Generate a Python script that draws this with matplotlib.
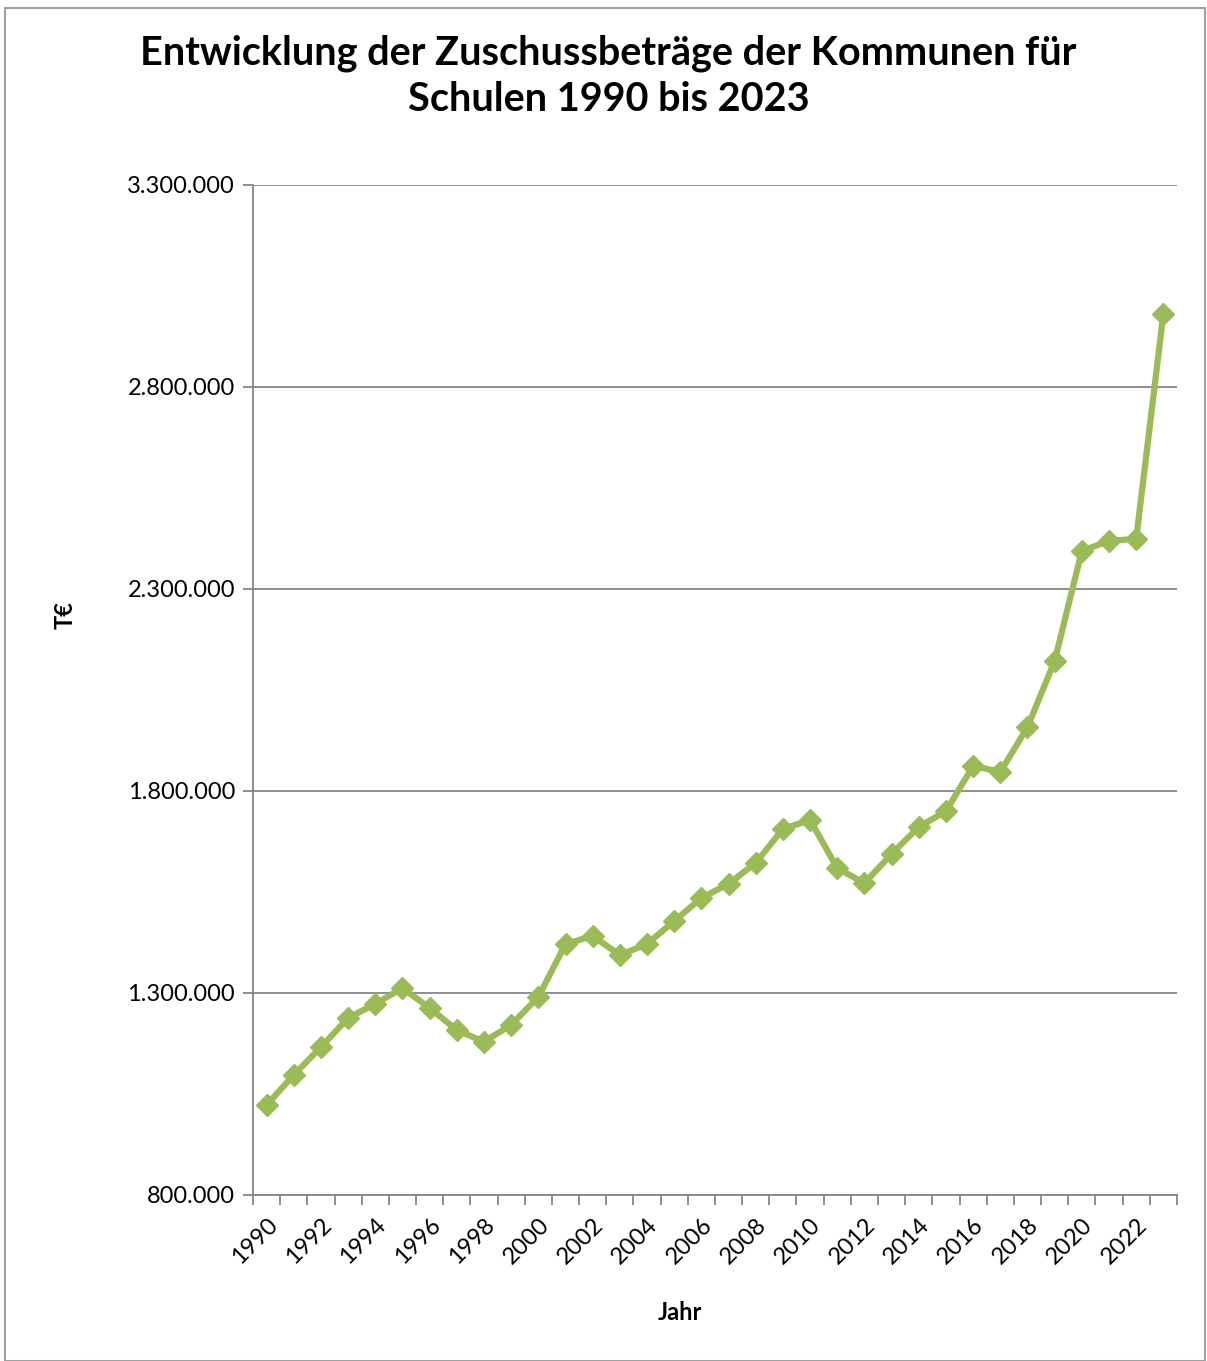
import numpy as np
import matplotlib
matplotlib.use("Agg")
from matplotlib import pyplot as plt
from matplotlib.patches import Rectangle
from matplotlib.ticker import FuncFormatter

plt.rcParams['font.family'] = ['Lato', 'DejaVu Sans']

# Zuschussbeträge der Kommunen für Schulen (T€)
years = list(range(1990, 2024))
values = [1022800, 1097000, 1166000, 1238000, 1273000, 1312000, 1263000, 1208000,
          1179000, 1221000, 1290000, 1421000, 1441000, 1394000, 1421000, 1478000,
          1535000, 1570000, 1622000, 1706000, 1728000, 1609000, 1572000, 1644000,
          1711000, 1750000, 1862000, 1847000, 1958000, 2122000, 2394000, 2419000,
          2424000, 2981000]
y_ticks = [800000, 1300000, 1800000, 2300000, 2800000, 3300000]

green = '#9BBB59'
gray = '#868686'

fig = plt.figure(figsize=(12.07, 13.61), dpi=100)
fig.patches.append(Rectangle((0.004, 0.0), 0.994, 0.994, transform=fig.transFigure,
                             fill=False, edgecolor='#a0a0a0', linewidth=1.5))

ax = fig.add_axes([0.2096, 0.1220, 0.7655, 0.7421])
x = np.arange(len(years))
ax.plot(x, values, color=green, linewidth=4.5, marker='D', markersize=11,
        markeredgecolor=green, markerfacecolor=green, zorder=3)

ax.set_xlim(-0.5, len(years) - 0.5)
ax.set_ylim(y_ticks[0], y_ticks[-1])
ax.set_yticks(y_ticks)
ax.yaxis.set_major_formatter(FuncFormatter(lambda v, p: f'{int(v):,}'.replace(',', '.')))
ax.grid(axis='y', color=gray, linewidth=1.3)
ax.set_axisbelow(True)

# ticks between categories, labels every second year
ax.set_xticks(np.arange(-0.5, len(years), 1.0), minor=True)
ax.set_xticks(x[::2])
ax.set_xticklabels([str(y) for y in years[::2]], rotation=45, ha='right',
                   rotation_mode='anchor', fontsize=17)
ax.tick_params(axis='x', which='major', length=0, pad=14)
ax.tick_params(axis='x', which='minor', length=7, color=gray, width=1.3)
ax.tick_params(axis='y', length=7, color=gray, width=1.3, labelsize=17, pad=6)

for side in ['top', 'right']:
    ax.spines[side].set_visible(False)
for side in ['left', 'bottom']:
    ax.spines[side].set_color(gray)
    ax.spines[side].set_linewidth(1.3)

fig.text(0.504, 0.944, 'Entwicklung der Zuschussbeträge der Kommunen für\nSchulen 1990 bis 2023',
         ha='center', va='center', fontsize=28.5, fontweight='bold', linespacing=1.32)
fig.text(0.054, 0.548, 'T€', ha='center', va='center', rotation=90,
         fontsize=17, fontweight='bold')
fig.text(0.563, 0.036, 'Jahr', ha='center', va='center', fontsize=17, fontweight='bold')

fig.savefig('out.png', dpi=100)
